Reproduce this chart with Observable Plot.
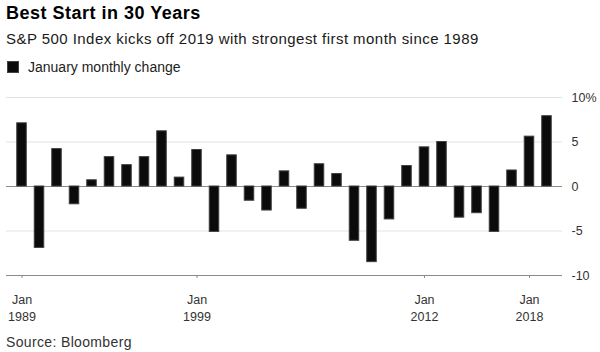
<!DOCTYPE html>
<html>
<head>
<meta charset="utf-8">
<script src="https://cdn.jsdelivr.net/npm/d3@7"></script>
<script src="https://cdn.jsdelivr.net/npm/@observablehq/plot@0.6"></script>
<style>
  html, body { margin: 0; padding: 0; background: #fff; }
  #wrap { position: relative; width: 600px; height: 352px; font-family: "Liberation Sans", Arial, Helvetica, sans-serif; color: #222; }
  .t { position: absolute; left: 6px; white-space: nowrap; line-height: 1; }
  #title { top: 3.8px; font-size: 18px; font-weight: bold; color: #000; letter-spacing: 0.5px; }
  #subtitle { top: 30.6px; font-size: 15px; letter-spacing: 0.45px; color: #1a1a1a; }
  #legend { top: 59.9px; left: 7px; font-size: 14px; color: #222; }
  #legend .sw { display: inline-block; width: 12px; height: 12px; background: #0b0b0b; border: 0.5px solid #444; box-sizing: border-box; vertical-align: -1px; margin-right: 9px; }
  #chart { position: absolute; left: 0; top: 85px; }
  #source { top: 335px; font-size: 14px; letter-spacing: 0.35px; color: #333; }
</style>
</head>
<body>
<div id="wrap">
  <div class="t" id="title">Best Start in 30 Years</div>
  <div class="t" id="subtitle">S&amp;P 500 Index kicks off 2019 with strongest first month since 1989</div>
  <div class="t" id="legend"><span class="sw"></span>January monthly change</div>
  <div id="chart"></div>
  <div class="t" id="source">Source: Bloomberg</div>
</div>
<script>
const years = [1989, 1990, 1991, 1992, 1993, 1994, 1995, 1996, 1997, 1998,
               1999, 2000, 2001, 2002, 2003, 2004, 2005, 2006, 2007, 2008,
               2009, 2010, 2011, 2012, 2013, 2014, 2015, 2016, 2017, 2018, 2019];
const januaryChange = [7.1, -6.9, 4.2, -2.0, 0.7, 3.3, 2.4, 3.3, 6.2, 1.0,
                       4.1, -5.1, 3.5, -1.6, -2.7, 1.7, -2.5, 2.5, 1.4, -6.1,
                       -8.5, -3.7, 2.3, 4.4, 5.0, -3.5, -3.0, -5.1, 1.8, 5.6, 7.9];
const xTickYears = [1989, 1999, 2012, 2018];
const yTicks = [-10, -5, 0, 5, 10];
const gridValues = [10, 5, -5];

const data = years.map((year, i) => ({year, value: januaryChange[i]}));

const chart = Plot.plot({
  width: 600,
  height: 240,
  marginTop: 12,
  marginBottom: 50,
  marginLeft: 6,
  marginRight: 38,
  style: {
    fontFamily: '"Liberation Sans", Arial, Helvetica, sans-serif',
    fontSize: "12.5px",
    color: "#333",
    background: "transparent",
    overflow: "visible"
  },
  x: {type: "band", domain: years, paddingInner: 0.4, paddingOuter: 0.586, round: false, label: null},
  y: {domain: [-10, 10], label: null},
  marks: [
    Plot.ruleY(gridValues, {stroke: "#e3e3e3", strokeWidth: 1}),
    Plot.ruleY([0], {stroke: "#8c8c8c", strokeWidth: 1}),
    Plot.barY(data, {x: "year", y: "value", fill: "#0b0b0b", stroke: "#3e3e3e", strokeWidth: 1, insetLeft: 0.5, insetRight: 0.5}),
    Plot.ruleY([-10], {stroke: "#8a8a8a", strokeWidth: 1}),
    Plot.axisX({
      ticks: xTickYears,
      tickFormat: d => "Jan\n" + d,
      tickSize: 3,
      tickPadding: 13.7,
      stroke: "#8a8a8a",
      fill: "#333",
      lineHeight: 1.36,
      label: null
    }),
    Plot.axisY({
      anchor: "right",
      ticks: yTicks,
      tickFormat: d => d === 10 ? "10%" : String(d),
      tickSize: 0,
      tickPadding: 9,
      textAnchor: "start",
      fill: "#333",
      label: null
    })
  ]
});
document.getElementById("chart").appendChild(chart);
</script>
</body>
</html>
